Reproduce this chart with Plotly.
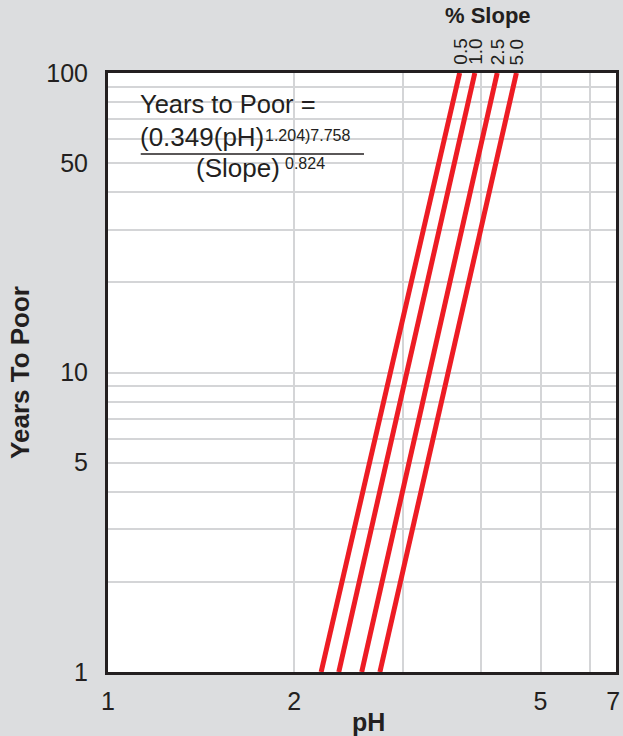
import numpy as np
import plotly.graph_objects as go

# ---- data ----
slope_labels = ["0.5", "1.0", "2.5", "5.0"]
ph_at_1_year = [2.21, 2.36, 2.57, 2.75]      # pH where each line meets 1 year
ph_at_100_years = [3.70, 3.915, 4.255, 4.57]  # pH where each line meets 100 years
years_ends = [1, 100]

x_label_vals = [1, 2, 5, 6.55]
x_label_text = ["1", "2", "5", "7"]
x_grid_vals = [2, 3, 4, 5, 6]
y_tick_vals = [1, 2, 3, 4, 5, 6, 7, 8, 9, 10, 20, 30, 40, 50, 60, 70, 80, 90, 100]
y_tick_text = ["1", "", "", "", "5", "", "", "", "", "10", "", "", "", "50", "", "", "", "", "100"]

# ---- layout geometry ----
W, H = 623, 736
L, R, T, B = 108, 3, 73, 64
FONT = "Liberation Sans, Arial, sans-serif"
INK = "#231f20"
RED = "#ed1c24"
GRID = "#d4d5d7"


def px_x(px):
    return (px - L) / (W - L - R)


def px_y(py):
    return 1 - (py - T) / (H - T - B)


fig = go.Figure()
for lab, p1, p100 in zip(slope_labels, ph_at_1_year, ph_at_100_years):
    fig.add_trace(go.Scatter(
        x=[p1, p100], y=years_ends, mode="lines", name=lab,
        line=dict(color=RED, width=5), showlegend=False, hoverinfo="skip"))

annotations = []
# slope labels above each line
for lab, p100 in zip(slope_labels, ph_at_100_years):
    annotations.append(dict(
        x=np.log10(p100), xref="x", y=px_y(67), yref="paper",
        text=lab, showarrow=False, textangle=-90,
        xanchor="center", yanchor="bottom",
        font=dict(family=FONT, size=19, color=INK)))
annotations.append(dict(
    x=px_x(491), y=px_y(16), xref="paper", yref="paper",
    text="<b>% Slope</b>", showarrow=False, xanchor="center", yanchor="middle",
    font=dict(family=FONT, size=22, color=INK)))

# x-axis title
annotations.append(dict(
    x=px_x(371), y=px_y(722), xref="paper", yref="paper",
    text="<b>pH</b>", showarrow=False, xanchor="center", yanchor="middle",
    font=dict(family=FONT, size=25, color=INK)))

# formula
annotations += [
    dict(x=px_x(138), y=px_y(104), xref="paper", yref="paper",
         text="Years to Poor =", showarrow=False, xanchor="left", yanchor="middle",
         font=dict(family=FONT, size=25.5, color=INK)),
    dict(x=px_x(138), y=px_y(137), xref="paper", yref="paper",
         text="(0.349(pH)", showarrow=False, xanchor="left", yanchor="middle",
         font=dict(family=FONT, size=26, color=INK)),
    dict(x=px_x(264), y=px_y(135), xref="paper", yref="paper",
         text="1.204)7.758", showarrow=False, xanchor="left", yanchor="middle",
         font=dict(family=FONT, size=16, color=INK)),
    dict(x=px_x(195), y=px_y(168), xref="paper", yref="paper",
         text="(Slope)", showarrow=False, xanchor="left", yanchor="middle",
         font=dict(family=FONT, size=26, color=INK)),
    dict(x=px_x(284), y=px_y(163), xref="paper", yref="paper",
         text="0.824", showarrow=False, xanchor="left", yanchor="middle",
         font=dict(family=FONT, size=16, color=INK)),
]

shapes = [dict(type="line", xref="paper", yref="paper",
               x0=px_x(141), x1=px_x(366), y0=px_y(154), y1=px_y(154),
               line=dict(color=INK, width=1.5))]

fig.update_layout(
    width=W, height=H,
    margin=dict(l=L, r=R, t=T, b=B),
    paper_bgcolor="#dcdddf", plot_bgcolor="white",
    annotations=annotations, shapes=shapes,
    xaxis=dict(
        type="log", range=[0, np.log10(6.62)],
        tickvals=x_label_vals, ticktext=x_label_text,
        showgrid=False,
        minor=dict(tickvals=x_grid_vals, showgrid=True, gridcolor=GRID, gridwidth=1.5, ticks=""),
        showline=True, mirror=True, linecolor=INK, linewidth=3,
        ticks="", zeroline=False, ticklabeloverflow="allow", ticklabelstandoff=5,
        tickfont=dict(family=FONT, size=25, color=INK),
    ),
    yaxis=dict(
        type="log", range=[0, 2],
        tickvals=y_tick_vals, ticktext=y_tick_text,
        showgrid=True, gridcolor=GRID, gridwidth=1.5,
        showline=True, mirror=True, linecolor=INK, linewidth=3,
        ticks="", zeroline=False, ticklabelstandoff=12,
        tickfont=dict(family=FONT, size=25, color=INK),
        title=dict(text="<b>Years To Poor</b>", font=dict(family=FONT, size=26, color=INK), standoff=10),
    ),
)

fig.write_html("out.html", config={"displayModeBar": False},
               post_script="document.body.style.margin='0';")
